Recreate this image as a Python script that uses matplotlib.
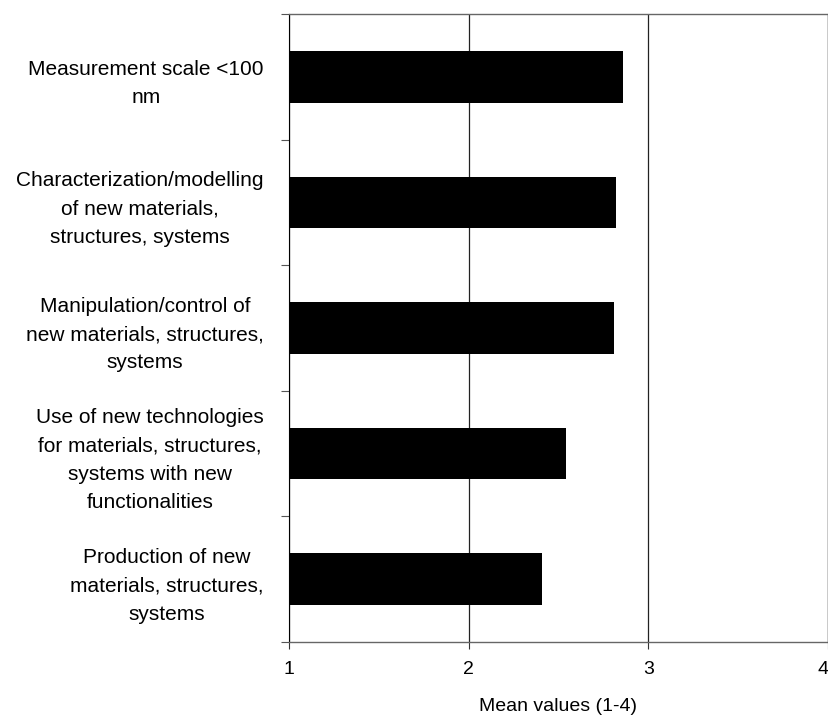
import matplotlib.pyplot as plt

plt.rcParams['font.family'] = ['Liberation Sans', 'DejaVu Sans']

categories = [
    'Measurement scale <100\nnm',
    'Characterization/modelling\nof new materials,\nstructures, systems',
    'Manipulation/control of\nnew materials, structures,\nsystems',
    'Use of new technologies\nfor materials, structures,\nsystems with new\nfunctionalities',
    'Production of new\nmaterials, structures,\nsystems',
]
values = [2.86, 2.82, 2.81, 2.54, 2.41]
xticks = [1, 2, 3, 4]

fig = plt.figure(figsize=(8.29, 7.17), dpi=100)
ax = fig.add_axes([0.3486, 0.1046, 0.6502, 0.8759])

n = len(categories)
pos = [n - 1 - i for i in range(n)]
ax.barh(pos, [v - 1 for v in values], left=1, height=0.41, color='black', zorder=3)

ax.set_xlim(1, 4)
ax.set_ylim(-0.5, n - 0.5)
ax.set_xticks(xticks)
ax.set_xticklabels([str(t) for t in xticks], fontsize=14)
ax.get_xticklabels()[-1].set_horizontalalignment('right')
ax.tick_params(axis='x', length=5, width=0.8, color='#333333', pad=9)

# boundary ticks without labels, labels at category centres
ax.set_yticks([i - 0.5 for i in range(n + 1)])
ax.set_yticklabels([])
ax.tick_params(axis='y', which='major', length=6, width=0.8, color='#555555')
ax.set_yticks(pos, minor=True)
ax.set_yticklabels(categories, minor=True, fontsize=15)
ax.tick_params(axis='y', which='minor', length=0, pad=18)
for lbl in ax.get_yticklabels(minor=True):
    lbl.set_multialignment('center')
    lbl.set_linespacing(1.62)

ax.xaxis.grid(True, color='#222222', linewidth=0.9, zorder=1)
ax.set_axisbelow(True)

for side in ['top', 'right', 'bottom']:
    ax.spines[side].set_color('#666666')
    ax.spines[side].set_linewidth(1.0)
ax.spines['left'].set_color('black')

ax.set_xlabel('Mean values (1-4)', fontsize=14, labelpad=14)

fig.savefig('out.png', dpi=100)
